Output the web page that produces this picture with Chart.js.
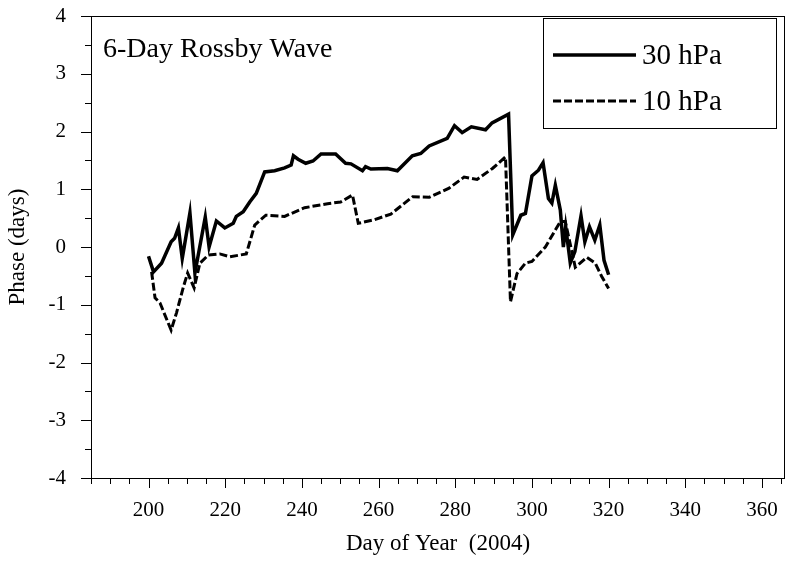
<!DOCTYPE html>
<html><head><meta charset="utf-8">
<script src="https://cdn.jsdelivr.net/npm/chart.js@4"></script>
<style>html,body{margin:0;padding:0;background:#fff}#c{display:block}</style>
</head><body>
<div style="width:787px;height:562px"><canvas id="c"></canvas></div>
<script>
const days30=[200,201.3,203.4,205.9,206.8,207.8,208.8,210.8,212.1,214.8,215.8,217.7,219.9,222.1,222.9,224.7,226.4,228.1,230.3,232.9,235.5,237.2,237.8,239,241,242.9,245,248.8,251.4,252.8,255.8,256.6,258,262.3,264.9,268.8,271,273.2,277.9,279.8,281.8,284.2,287.9,289.6,293.9,295,297.1,298.3,300,301.7,302.9,304.3,305.2,306.1,307.4,308.2,308.8,310,311.2,312.8,313.8,315,316.4,317.7,318.8,320];
const phase30=[-0.16,-0.43,-0.28,0.09,0.15,0.33,-0.2,0.59,-0.45,0.52,0.0,0.45,0.33,0.41,0.53,0.61,0.78,0.93,1.30,1.32,1.37,1.42,1.58,1.52,1.45,1.49,1.61,1.61,1.45,1.44,1.32,1.39,1.35,1.36,1.32,1.58,1.62,1.75,1.88,2.10,1.98,2.08,2.03,2.15,2.30,0.21,0.55,0.58,1.23,1.33,1.46,0.84,0.76,1.07,0.64,0.0,0.35,-0.28,-0.08,0.54,0.09,0.35,0.12,0.38,-0.23,-0.48];
const days10=[200.8,201.7,203,205.9,207.3,209.1,210.2,211.9,213.4,215.6,218.6,221.2,225.5,227.7,230.6,235.5,240.7,246.7,250.1,253.2,254.7,258.8,263.2,268.9,273.2,278.4,282.3,285.7,289.7,293.1,294.4,296.1,298.3,300,303.5,307.4,308.7,311.3,314.3,316.5,318.2,320];
const phase10=[-0.43,-0.88,-0.97,-1.44,-1.14,-0.69,-0.45,-0.71,-0.28,-0.14,-0.12,-0.17,-0.12,0.38,0.55,0.53,0.68,0.75,0.78,0.90,0.41,0.47,0.57,0.87,0.86,1.02,1.21,1.17,1.36,1.56,-0.95,-0.46,-0.28,-0.25,0.0,0.44,0.44,-0.35,-0.18,-0.28,-0.51,-0.72];
const xTicks=[200,220,240,260,280,300,320,340,360];
const yTicks=[-4,-3,-2,-1,0,1,2,3,4];
const seriesNames=['30 hPa','10 hPa'];
const titleText='6-Day Rossby Wave';
const FONT='"Liberation Serif","Times New Roman",serif';
const pts=(xs,ys)=>xs.map((x,i)=>({x:x,y:ys[i]}));
const deco={id:'deco',afterDraw(ch){
  const c=ch.ctx,a=ch.chartArea,xs=ch.scales.x,ys=ch.scales.y;
  c.save();c.strokeStyle='#000';c.lineWidth=1;
  c.strokeRect(a.left+0.5,a.top+0.5,a.right-a.left-1,a.bottom-a.top);
  c.beginPath();
  for(let d=185;d<=366;d+=5){const p=Math.round(xs.getPixelForValue(d))+0.5;c.moveTo(p,a.bottom);c.lineTo(p,a.bottom+(d%20===0?10:6));}
  for(let v=-4;v<=4;v+=0.5){const p=Math.round(ys.getPixelForValue(v))+0.5;c.moveTo(a.left,p);c.lineTo(a.left-(Number.isInteger(v)?10:6),p);}
  c.stroke();
  c.fillStyle='#000';c.font='28px '+FONT;c.textBaseline='alphabetic';c.fillText(titleText,103,57);
  c.fillStyle='#fff';c.fillRect(543.5,18.5,233,110);c.strokeRect(543.5,18.5,233,110);
  c.fillStyle='#000';c.font='29px '+FONT;
  c.lineWidth=3.5;c.beginPath();c.moveTo(553,55);c.lineTo(636,55);c.stroke();
  c.fillText(seriesNames[0],642,64);
  c.lineWidth=3;c.setLineDash([8,3]);c.beginPath();c.moveTo(553,101);c.lineTo(636,101);c.stroke();c.setLineDash([]);
  c.fillText(seriesNames[1],642,110);
  c.restore();
}};
new Chart(document.getElementById('c'),{
  type:'scatter',
  data:{datasets:[
    {label:seriesNames[0],data:pts(days30,phase30),showLine:true,borderColor:'#000',borderWidth:3.5,pointRadius:0,tension:0},
    {label:seriesNames[1],data:pts(days10,phase10),showLine:true,borderColor:'#000',borderWidth:3,borderDash:[8,3],pointRadius:0,tension:0}
  ]},
  options:{responsive:true,maintainAspectRatio:false,animation:false,
    layout:{padding:{top:16,right:2,left:0,bottom:0}},
    plugins:{legend:{display:false},tooltip:{enabled:false}},
    scales:{
      x:{type:'linear',min:185,max:366,grid:{display:false},border:{display:false},
        afterBuildTicks:s=>{s.ticks=xTicks.map(v=>({value:v}));},
        afterFit:s=>{s.height=84;s.paddingLeft=0;s.paddingRight=0;},
        ticks:{padding:12,color:'#000',font:{family:FONT,size:21},maxRotation:0},
        title:{display:true,text:'Day of Year  (2004)',color:'#000',font:{family:FONT,size:23},padding:{top:0}}},
      y:{min:-4,max:4,grid:{display:false},border:{display:false},
        afterBuildTicks:s=>{s.ticks=yTicks.map(v=>({value:v}));},
        afterFit:s=>{s.width=91;s.paddingTop=0;s.paddingBottom=0;},
        ticks:{padding:17,color:'#000',font:{family:FONT,size:21}},
        title:{display:true,text:'Phase (days)',color:'#000',font:{family:FONT,size:23},padding:{bottom:6}}}
    }},
  plugins:[deco]
});
</script></body></html>
